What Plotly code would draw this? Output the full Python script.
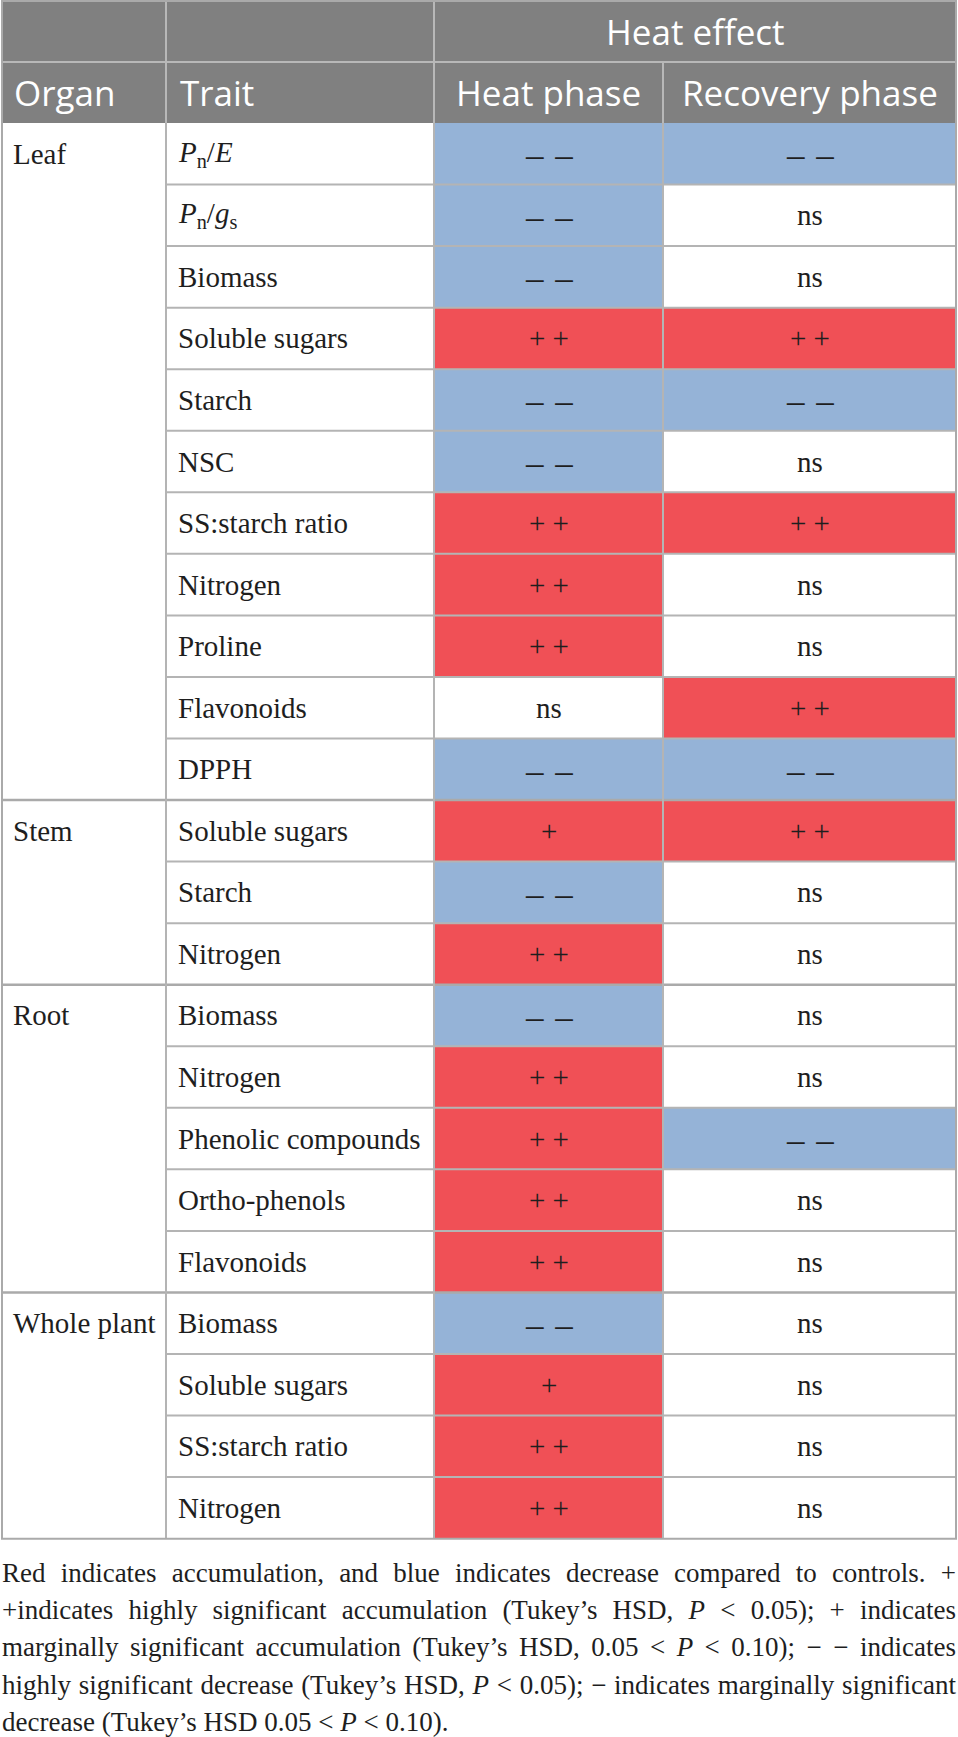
#!/usr/bin/env python3
"""
Tableau des effets de la chaleur par organe et par trait (phase chaleur / récupération)
"""

import plotly.graph_objects as go

# Données du tableau
organs = ["Leaf"] * 11 + ["Stem"] * 3 + ["Root"] * 5 + ["Whole plant"] * 4
traits = [
    "<i>P</i><sub>n</sub>/<i>E</i>",
    "<i>P</i><sub>n</sub>/<i>g</i><sub>s</sub>",
    "Biomass", "Soluble sugars", "Starch", "NSC", "SS:starch ratio",
    "Nitrogen", "Proline", "Flavonoids", "DPPH",
    "Soluble sugars", "Starch", "Nitrogen",
    "Biomass", "Nitrogen", "Phenolic compounds", "Ortho-phenols", "Flavonoids",
    "Biomass", "Soluble sugars", "SS:starch ratio", "Nitrogen",
]
heat_phase = ["--", "--", "--", "++", "--", "--", "++", "++", "++", "ns", "--",
              "+", "--", "++",
              "--", "++", "++", "++", "++",
              "--", "+", "++", "++"]
recovery_phase = ["--", "ns", "ns", "++", "--", "ns", "++", "ns", "ns", "++", "--",
                  "++", "ns", "ns",
                  "ns", "ns", "--", "ns", "ns",
                  "ns", "ns", "ns", "ns"]

header_top = "Heat effect"
headers = ["Organ", "Trait", "Heat phase", "Recovery phase"]

caption_lines = [
    "Red indicates accumulation, and blue indicates decrease compared to controls. +",
    "+indicates highly significant accumulation (Tukey’s HSD, <i>P</i> &lt; 0.05); + indicates",
    "marginally significant accumulation (Tukey’s HSD, 0.05 &lt; <i>P</i> &lt; 0.10); − − indicates",
    "highly significant decrease (Tukey’s HSD, <i>P</i> &lt; 0.05); − indicates marginally significant",
    "decrease (Tukey’s HSD 0.05 &lt; <i>P</i> &lt; 0.10).",
]

# Style
W, H = 958, 1737
col_edges = [2, 166, 434, 663, 956]
top = 1
header_h = 61
row_h = 61.55
RED = "#f05056"
BLUE = "#95b3d7"
HEAD_BG = "#808080"
LINE = "#b4b4b4"
HEAD_LINE = "#b8b8b8"
TXT = "#1e1e1e"
SERIF = "Liberation Serif"
SANS = "Open Sans"

# Symboles affichés (tirets plus grands, comme dans l'original)
symbols = {"++": "+ +", "+": "+", "--": "– \u200a–", "-": "–", "ns": "ns"}


def cell_color(v):
    if v.startswith("+"):
        return RED
    if v.startswith("-"):
        return BLUE
    return "white"


def row_top(i):
    return top + 2 * header_h + i * row_h


fig = go.Figure()
shapes = []
annotations = []

n = len(traits)
body_top = row_top(0)
body_bottom = row_top(n)

# En-tête gris
shapes.append(dict(type="rect", x0=col_edges[0], x1=col_edges[-1], y0=top, y1=body_top,
                   fillcolor=HEAD_BG, line_width=0, layer="below"))

# Cellules colorées
for i in range(n):
    for j, vals in enumerate([heat_phase, recovery_phase]):
        c = cell_color(vals[i])
        if c != "white":
            shapes.append(dict(type="rect", x0=col_edges[2 + j], x1=col_edges[3 + j],
                               y0=row_top(i), y1=row_top(i + 1),
                               fillcolor=c, line_width=0, layer="below"))

# Lignes de l'en-tête
shapes.append(dict(type="line", x0=col_edges[0], x1=col_edges[-1], y0=top + header_h, y1=top + header_h,
                   line=dict(color=HEAD_LINE, width=2)))
for x in col_edges[1:3]:
    shapes.append(dict(type="line", x0=x, x1=x, y0=top, y1=body_top, line=dict(color=HEAD_LINE, width=2)))
shapes.append(dict(type="line", x0=col_edges[3], x1=col_edges[3], y0=top + header_h, y1=body_top,
                   line=dict(color=HEAD_LINE, width=2)))

# Lignes horizontales du corps
for i in range(1, n):
    y = row_top(i)
    new_group = organs[i] != organs[i - 1]
    x0 = col_edges[0] if new_group else col_edges[1]
    shapes.append(dict(type="line", x0=x0, x1=col_edges[-1], y0=y, y1=y,
                       line=dict(color="#aaaaaa" if new_group else LINE, width=2.5 if new_group else 2)))

# Lignes verticales du corps
for x in col_edges[1:4]:
    shapes.append(dict(type="line", x0=x, x1=x, y0=body_top, y1=body_bottom, line=dict(color=LINE, width=2)))

# Bordure extérieure
shapes.append(dict(type="rect", x0=col_edges[0], x1=col_edges[-1], y0=top, y1=body_bottom,
                   line=dict(color="#aaaaaa", width=2)))

# Textes de l'en-tête
head_font = dict(family=SANS, size=35, color="white")
annotations.append(dict(x=(col_edges[2] + col_edges[4]) / 2, y=top + header_h / 2, text=header_top,
                        xanchor="center", font=head_font))
hy = top + 1.5 * header_h
annotations.append(dict(x=col_edges[0] + 10, y=hy, text=headers[0], xanchor="left", font=head_font))
annotations.append(dict(x=col_edges[1] + 12, y=hy, text=headers[1], xanchor="left", font=head_font))
for j in (2, 3):
    annotations.append(dict(x=(col_edges[j] + col_edges[j + 1]) / 2, y=hy, text=headers[j],
                            xanchor="center", font=head_font))

# Textes du corps
body_font = dict(family=SERIF, size=29, color=TXT)
dash_font = dict(family=SERIF, size=35, color=TXT)
for i in range(n):
    yc = (row_top(i) + row_top(i + 1)) / 2
    if i == 0 or organs[i] != organs[i - 1]:
        annotations.append(dict(x=col_edges[0] + 9, y=yc, text=organs[i], xanchor="left", font=body_font))
    annotations.append(dict(x=col_edges[1] + 10, y=yc, text=traits[i], xanchor="left", font=body_font))
    for j, vals in enumerate([heat_phase, recovery_phase]):
        is_dash = vals[i].startswith("-")
        annotations.append(dict(x=(col_edges[2 + j] + col_edges[3 + j]) / 2, y=yc + (2 if is_dash else 0),
                                text=symbols[vals[i]], xanchor="center",
                                font=dash_font if is_dash else body_font))

# Légende sous le tableau (lignes justifiées sauf la dernière)
first_caption = len(annotations)
for k, line in enumerate(caption_lines):
    annotations.append(dict(x=col_edges[0] - 2, y=body_bottom + 34 + k * 37.3, text=line,
                            xanchor="left", align="left",
                            font=dict(family=SERIF, size=27, color=TXT)))

for a in annotations:
    a.update(showarrow=False, yanchor="middle", xref="x", yref="y")

fig.update_layout(
    width=W, height=H,
    margin=dict(l=0, r=0, t=0, b=0),
    paper_bgcolor="white", plot_bgcolor="white",
    xaxis=dict(range=[0, W], visible=False, fixedrange=True),
    yaxis=dict(range=[H, 0], visible=False, fixedrange=True),
    shapes=shapes, annotations=annotations,
    showlegend=False,
)

justify_js = """
document.body.style.margin = '0';
var target = %d;
for (var k = %d; k < %d; k++) {
  var t = document.querySelector('g.annotation[data-index="' + k + '"] text.annotation-text');
  if (!t) continue;
  var spaces = (t.textContent.match(/ /g) || []).length;
  var len = t.getComputedTextLength();
  if (spaces > 0) t.style.wordSpacing = ((target - len) / spaces) + 'px';
}
""" % (col_edges[-1] - col_edges[0], first_caption, first_caption + len(caption_lines) - 1)

fig.write_html("out.html", config={"displayModeBar": False}, post_script=justify_js)
